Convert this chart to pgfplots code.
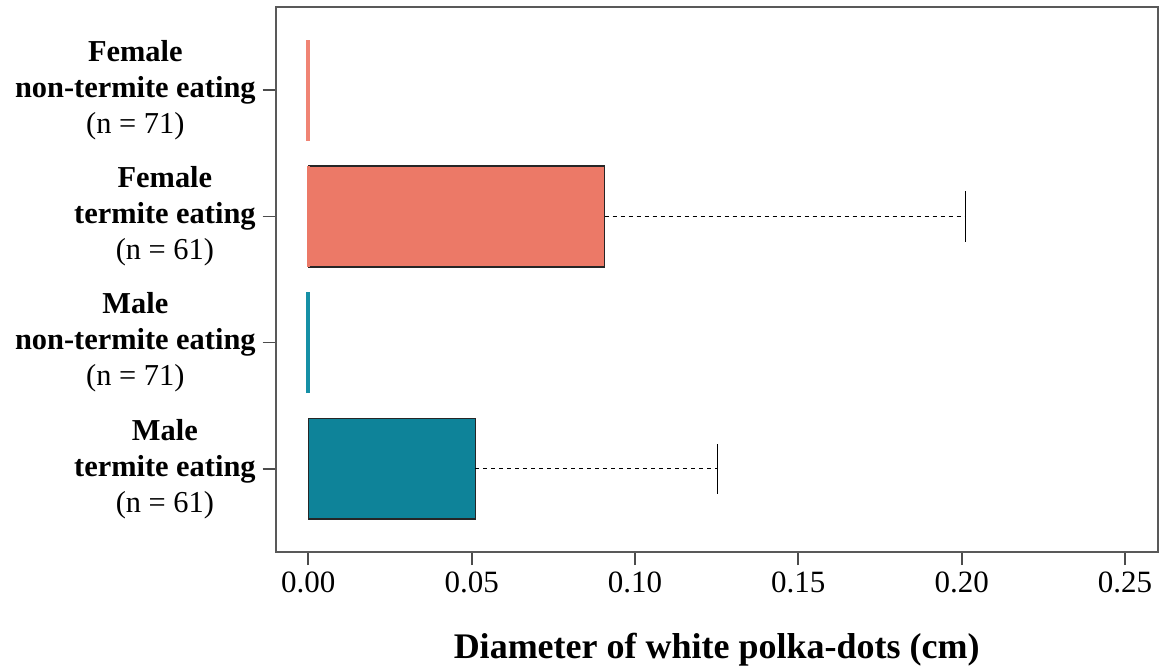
\documentclass[border=0pt]{standalone}
\usepackage{fontspec}
\setmainfont{Liberation Serif}
\usepackage{pgfplots}
\pgfplotsset{compat=1.18}
\definecolor{salmonc}{HTML}{EC7967}
\definecolor{salmonl}{HTML}{F08474}
\definecolor{tealc}{HTML}{0E8399}
\definecolor{teall}{HTML}{1690A6}
\begin{document}
\begin{tikzpicture}
\begin{axis}[
  scale only axis, width=441pt, height=272.5pt,
  xmin=-0.01, xmax=0.26, ymin=0.34, ymax=4.66,
  xtick={0,0.05,0.10,0.15,0.20,0.25},
  ytick={1,2,3,4},
  yticklabels={
    {\textbf{Male}\\\textbf{termite eating}\\(n = 61)},
    {\textbf{Male}\\\textbf{non-termite eating}\\(n = 71)},
    {\textbf{Female}\\\textbf{termite eating}\\(n = 61)},
    {\textbf{Female}\\\textbf{non-termite eating}\\(n = 71)}},
  xtick pos=left, ytick pos=left,
  tick align=outside, major tick length=6.5pt,
  axis line style={draw=black!65, line width=0.9pt},
  tick style={draw=black!70, line width=0.9pt},
  y tick label style={align=center, font=\fontsize{15.2}{18}\selectfont},
  x tick label style={font=\fontsize{15.5}{17}\selectfont},
  xticklabel style={/pgf/number format/.cd, fixed, fixed zerofill, precision=2, assume math mode=true},
  xlabel={\textbf{Diameter of white polka-dots (cm)}},
  xlabel style={font=\fontsize{18}{21}\selectfont, yshift=-13pt},
]
% Female termite eating
\addplot[fill=salmonc, draw=black!85, line width=0.75pt] coordinates {(0,2.6) (0.0907,2.6) (0.0907,3.4) (0,3.4)} -- cycle;
\addplot[salmonc, line width=1.8pt] coordinates {(0,2.6) (0,3.4)};
\addplot[black, line width=0.5pt, dash pattern=on 2pt off 2pt] coordinates {(0.0907,3) (0.2012,3)};
\addplot[black, line width=0.8pt] coordinates {(0.2012,2.8) (0.2012,3.2)};
% Female non-termite eating
\addplot[salmonl, line width=2pt] coordinates {(0,3.6) (0,4.4)};
% Male termite eating
\addplot[fill=tealc, draw=black!85, line width=0.75pt] coordinates {(0,0.6) (0.0511,0.6) (0.0511,1.4) (0,1.4)} -- cycle;
\addplot[black, line width=0.5pt, dash pattern=on 2pt off 2pt] coordinates {(0.0511,1) (0.1253,1)};
\addplot[black, line width=0.8pt] coordinates {(0.1253,0.8) (0.1253,1.2)};
% Male non-termite eating
\addplot[teall, line width=2pt] coordinates {(0,1.6) (0,2.4)};
\end{axis}
\pgfresetboundingbox
\path (-137.85pt,-58.5pt) rectangle (443.15pt,276pt);
\end{tikzpicture}
\end{document}
